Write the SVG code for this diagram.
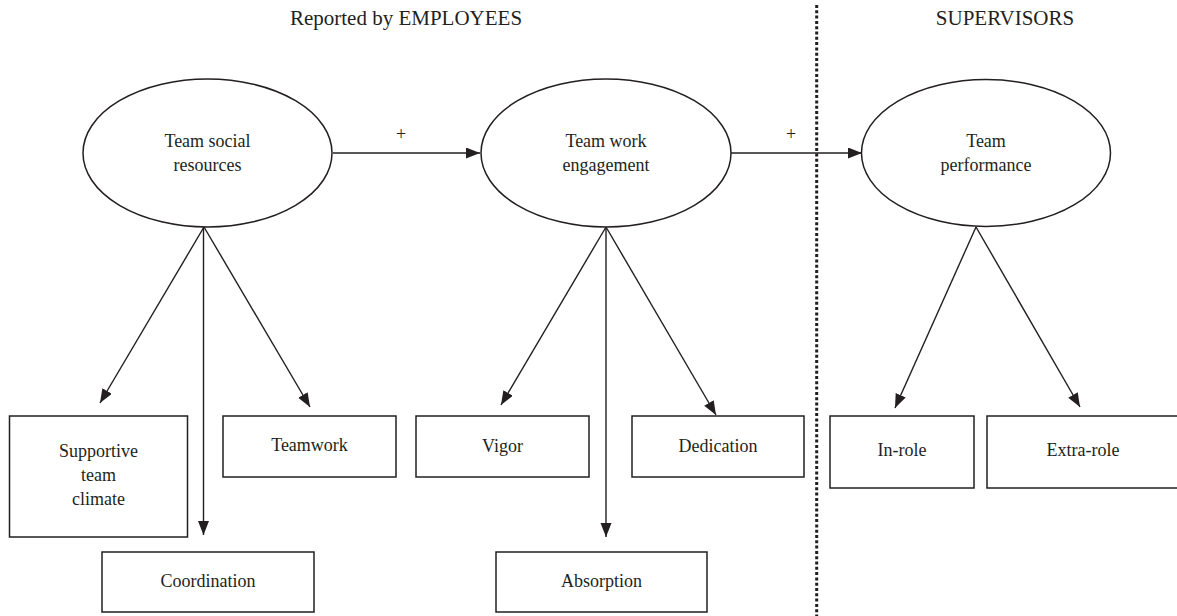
<svg xmlns="http://www.w3.org/2000/svg" width="1177" height="616" viewBox="0 0 1177 616">
<style>
text{font-family:"Liberation Serif","Times New Roman",serif;fill:#231f20;text-anchor:middle}
.t{font-size:18px}
.h{font-size:21px}
.n{fill:#fff;stroke:#231f20;stroke-width:1.5}
.c line{stroke:#231f20;stroke-width:1.4;fill:none}
</style>
<defs>
<marker id="ah" markerUnits="userSpaceOnUse" markerWidth="15" markerHeight="12" refX="14" refY="5.5" orient="auto" viewBox="0 0 15 12">
<path d="M0,0 L14,5.5 L0,11 z" fill="#231f20"/>
</marker>
</defs>
<rect width="1177" height="616" fill="#fff"/>
<g id="titles">
<text class="h" x="406" y="25">Reported by EMPLOYEES</text>
<text class="h" x="1005" y="25">SUPERVISORS</text>
</g>
<line id="divider" x1="816.7" y1="5" x2="816.7" y2="616" stroke="#231f20" stroke-width="3" stroke-dasharray="3 2.3"/>
<g class="c" id="connectors">
<line x1="333" y1="153" x2="480" y2="153" marker-end="url(#ah)"/>
<line x1="731" y1="153" x2="862" y2="153" marker-end="url(#ah)"/>
<line x1="204" y1="227" x2="100" y2="403" marker-end="url(#ah)"/>
<line x1="203.5" y1="227" x2="203.5" y2="535" marker-end="url(#ah)"/>
<line x1="204" y1="227" x2="310" y2="407" marker-end="url(#ah)"/>
<line x1="606" y1="227" x2="501" y2="405" marker-end="url(#ah)"/>
<line x1="606" y1="227" x2="606" y2="537" marker-end="url(#ah)"/>
<line x1="606" y1="227" x2="716" y2="415" marker-end="url(#ah)"/>
<line x1="976" y1="227" x2="895" y2="408" marker-end="url(#ah)"/>
<line x1="976" y1="227" x2="1080" y2="407" marker-end="url(#ah)"/>
<text class="t" x="401" y="140">+</text>
<text class="t" x="791" y="140">+</text>
</g>
<g id="team-social-resources">
<ellipse class="n" cx="207.5" cy="153" rx="124.5" ry="74"/>
<text class="t" x="207.5" y="147">Team social</text>
<text class="t" x="207.5" y="171">resources</text>
</g>
<g id="team-work-engagement">
<ellipse class="n" cx="606" cy="153" rx="125" ry="74"/>
<text class="t" x="606" y="147">Team work</text>
<text class="t" x="606" y="171">engagement</text>
</g>
<g id="team-performance">
<ellipse class="n" cx="986" cy="153" rx="124.5" ry="73.5"/>
<text class="t" x="986" y="147">Team</text>
<text class="t" x="986" y="171">performance</text>
</g>
<g id="supportive-team-climate">
<rect class="n" x="9.5" y="416" width="178" height="121"/>
<text class="t" x="98.5" y="457">Supportive</text>
<text class="t" x="98.5" y="481">team</text>
<text class="t" x="98.5" y="505">climate</text>
</g>
<g id="teamwork">
<rect class="n" x="223" y="416" width="173" height="61"/>
<text class="t" x="309.5" y="451">Teamwork</text>
</g>
<g id="coordination">
<rect class="n" x="102" y="552" width="212" height="60"/>
<text class="t" x="208" y="587">Coordination</text>
</g>
<g id="vigor">
<rect class="n" x="416" y="416" width="173" height="61"/>
<text class="t" x="502.5" y="451.5">Vigor</text>
</g>
<g id="dedication">
<rect class="n" x="632" y="416" width="172" height="61"/>
<text class="t" x="718" y="451.5">Dedication</text>
</g>
<g id="absorption">
<rect class="n" x="496" y="552" width="211" height="60"/>
<text class="t" x="601.5" y="587">Absorption</text>
</g>
<g id="in-role">
<rect class="n" x="830" y="416" width="144" height="72"/>
<text class="t" x="902" y="456">In-role</text>
</g>
<g id="extra-role">
<rect class="n" x="987" y="416" width="200" height="72"/>
<text class="t" x="1083" y="456">Extra-role</text>
</g>
</svg>
